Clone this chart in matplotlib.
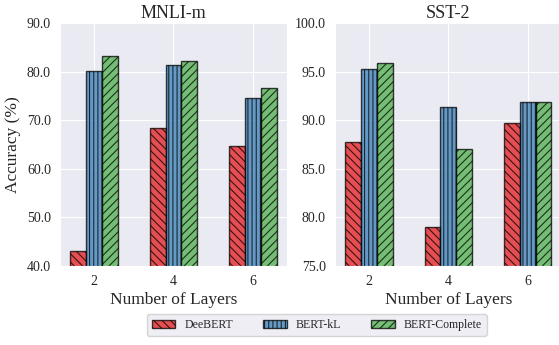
import matplotlib
matplotlib.use("Agg")
import matplotlib.pyplot as plt
import numpy as np
import seaborn as sns

layers = ["2", "4", "6"]
methods = ["DeeBERT", "BERT-kL", "BERT-Complete"]

mnli_deebert = [43.1, 68.4, 64.8]
mnli_kl = [80.1, 81.3, 74.5]
mnli_complete = [83.2, 82.3, 76.6]

sst_deebert = [87.8, 79.0, 89.7]
sst_kl = [95.3, 91.4, 91.9]
sst_complete = [95.9, 87.0, 91.9]

colors = ["#e41a1c", "#377eb8", "#4daf4a"]
hatches = ["\\\\\\\\", "||||", "////"]

sns.set_style("darkgrid")
plt.rcParams["font.family"] = ["Liberation Serif", "DejaVu Serif"]
plt.rcParams["hatch.linewidth"] = 0.8

fig = plt.figure(figsize=(5.59, 3.45), dpi=100)
ax1 = fig.add_axes([0.1073, 0.229, 0.406, 0.704])
ax2 = fig.add_axes([0.599, 0.229, 0.406, 0.704])

panels = [
    (ax1, "MNLI-m", [mnli_deebert, mnli_kl, mnli_complete], (40, 90), np.arange(40, 91, 10)),
    (ax2, "SST-2", [sst_deebert, sst_kl, sst_complete], (75, 100), np.arange(75, 101, 5)),
]

x = np.arange(len(layers))
w = 0.2
for ax, title, series, ylim, yt in panels:
    for i, (vals, name) in enumerate(zip(series, methods)):
        ax.bar(x + (i - 1) * w, vals, w, color=colors[i], alpha=0.75,
               edgecolor="black", linewidth=1.0, hatch=hatches[i], label=name)
    ax.set_xticks(x, layers)
    ax.set_ylim(*ylim)
    ax.set_yticks(yt)
    ax.set_yticklabels([f"{v:.1f}" for v in yt])
    ax.set_title(title, fontsize=13, pad=4)
    ax.set_xlabel("Number of Layers", fontsize=12.5, labelpad=3)
    ax.tick_params(labelsize=10, pad=3)
    ax.grid(axis="x", visible=True)
    ax.set_axisbelow(True)

ax1.set_ylabel("Accuracy (%)", fontsize=12.5)

handles, labels = ax1.get_legend_handles_labels()
fig.legend(handles, labels, loc="lower center", bbox_to_anchor=(0.567, 0.01),
           ncol=3, fontsize=8.5, frameon=True, columnspacing=2.5)

fig.savefig("out.png", dpi=100)
